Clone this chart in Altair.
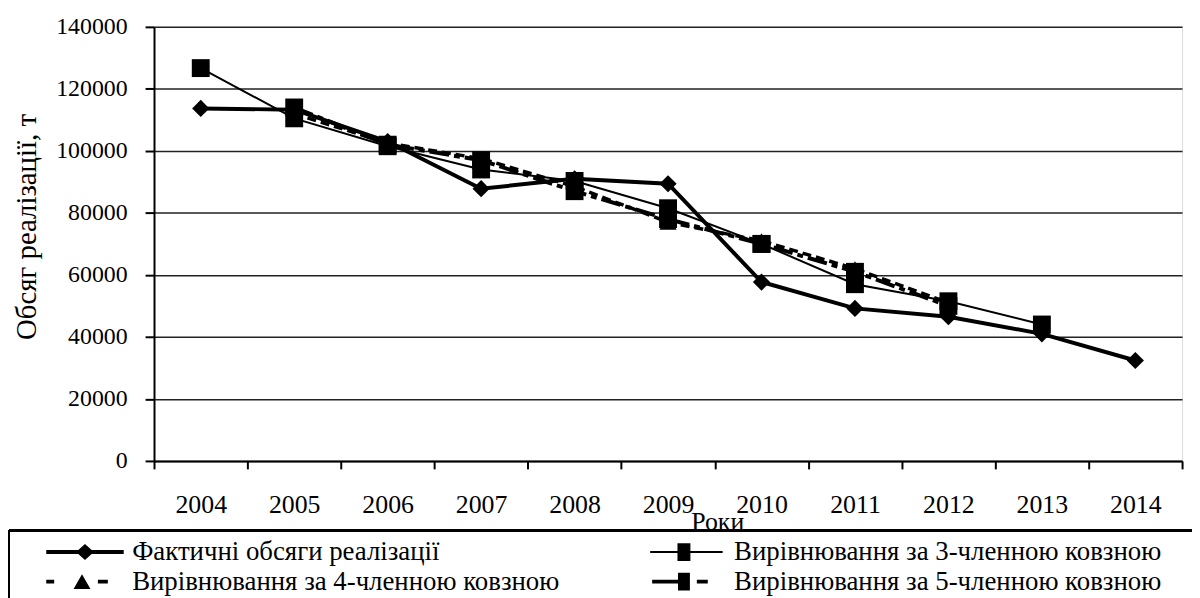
import altair as alt
import pandas as pd

# ---------------- data ----------------
years = [2004, 2005, 2006, 2007, 2008, 2009, 2010, 2011, 2012, 2013, 2014]
actual = [113700, 113300, 103000, 87800, 91000, 89400, 57700, 49200, 46500, 41000, 32400]
ma3_years = [2004, 2005, 2006, 2007, 2008, 2009, 2010, 2011, 2012, 2013]
ma3 = [126700, 110500, 101500, 94000, 90300, 81500, 70000, 57000, 51500, 44000]
ma4_years = [2005, 2006, 2007, 2008, 2009, 2010, 2011, 2012]
ma4 = [112000, 102500, 97500, 88500, 77000, 71000, 62000, 51000]
ma5_years = [2005, 2006, 2007, 2008, 2009, 2010, 2011, 2012]
ma5 = [114000, 102000, 97000, 87000, 78000, 70000, 61000, 50000]

names = [
    "Фактичні обсяги реалізації",
    "Вирівнювання за 3-членною ковзною",
    "Вирівнювання за 4-членною ковзною",
    "Вирівнювання за 5-членною ковзною",
]
y_ticks = [0, 20000, 40000, 60000, 80000, 100000, 120000, 140000]
x_title = "Роки"
y_title = "Обсяг реалізації, т"

FONT = "Liberation Serif"

rows = []
for yrs, vals, nm in [(years, actual, names[0]), (ma3_years, ma3, names[1]),
                      (ma4_years, ma4, names[2]), (ma5_years, ma5, names[3])]:
    for yr, v in zip(yrs, vals):
        rows.append({"year": str(yr), "value": v, "series": nm})
df = pd.DataFrame(rows)
year_labels = [str(y) for y in years]

# ---------------- legend symbol paths (unit = half of symbol width) ----------------
U = 12.0


def f(v):
    return f"{v / U:.4f}"


def rect(x0, x1, y0, y1):
    return f"M{f(x0)},{f(y0)}H{f(x1)}V{f(y1)}H{f(x0)}Z"


def diamond(cx, a, b):
    return f"M{f(cx - a)},0L{f(cx)},{f(-b)}L{f(cx + a)},0L{f(cx)},{f(b)}Z"


def triangle(cx, a, b):
    return f"M{f(cx - a)},{f(b)}L{f(cx)},{f(-b)}L{f(cx + a)},{f(b)}Z"


sym_actual = rect(20, 98, -2, 2) + diamond(59, 9, 8)
sym_ma3 = rect(22, 95, -1, 1) + rect(49.5, 62.5, -9, 9)
sym_ma4 = rect(20, 28, -2, 2) + triangle(56, 8.5, 7.5) + rect(72, 82, -2, 2)
sym_ma5 = rect(24, 51, -2, 2) + rect(50, 62, -9, 9) + rect(69, 80, -2, 2)

# legend fills column by column: left column = actual, 4-member; right = 3-, 5-member
legend_order = [names[0], names[2], names[1], names[3]]
legend_paths = [sym_actual, sym_ma4, sym_ma3, sym_ma5]

x_enc = alt.X(
    "year:O",
    scale=alt.Scale(type="band", domain=year_labels, paddingInner=0, paddingOuter=0),
    axis=alt.Axis(
        title=x_title, labelAngle=0, tickBand="extent", grid=False,
        domainColor="black", domainWidth=2, tickColor="black", tickWidth=2, tickSize=8,
        labelFont=FONT, labelFontSize=26, labelColor="black", labelPadding=23,
        titleFont=FONT, titleFontSize=26, titleFontWeight="normal", titleColor="black",
        titleX=567, titleY=61, titleAlign="center", titleBaseline="middle",
    ),
)
y_enc = alt.Y(
    "value:Q",
    scale=alt.Scale(domain=[0, 140000], nice=False),
    axis=alt.Axis(
        title=y_title, values=y_ticks, format="d", grid=True,
        gridColor="#222222", gridWidth=1.5,
        domainColor="black", domainWidth=2, tickColor="black", tickWidth=2, tickSize=9,
        labelFont=FONT, labelFontSize=24, labelColor="black", labelPadding=18,
        titleFont=FONT, titleFontSize=29, titleFontWeight="normal", titleColor="black",
        titleAngle=270, titleX=-128, titleY=201, titleAlign="center", titleBaseline="middle",
    ),
)

base = alt.Chart(df).encode(x=x_enc, y=y_enc)

styles = [
    (names[0], dict(strokeWidth=4), dict(shape="diamond", size=300)),
    (names[1], dict(strokeWidth=2), dict(shape="square", size=324)),
    (names[2], dict(strokeWidth=3.5, strokeDash=[9, 5]), dict(shape="triangle-up", size=300)),
    (names[3], dict(strokeWidth=4, strokeDash=[20, 5, 6, 5]), dict(shape="square", size=324)),
]

layers = []
for nm, lp, pp in styles:
    sub = base.transform_filter(alt.datum.series == nm)
    layers.append(sub.mark_line(color="black", **lp))
    layers.append(sub.mark_point(filled=True, color="black", opacity=1, **pp))

legend_layer = base.transform_filter("false").mark_point(filled=True, color="black", opacity=1).encode(
    shape=alt.Shape(
        "series:N",
        scale=alt.Scale(domain=legend_order, range=legend_paths),
        legend=alt.Legend(
            orient="none", legendX=-142, legendY=515, columns=2, title=None,
            symbolSize=576, symbolFillColor="black", symbolStrokeWidth=0,
            symbolOpacity=1, labelOffset=93, labelLimit=700,
            columnPadding=55, rowPadding=2, padding=0,
            labelFont=FONT, labelFontSize=27, labelColor="black", labelBaseline="middle",
        ),
    )
)

frame_top = alt.Chart(df).mark_rule(color="black", strokeWidth=2).encode(
    x=alt.value(-146), x2=alt.value(1060), y=alt.value(507)
)
frame_left = alt.Chart(df).mark_rule(color="black", strokeWidth=2).encode(
    x=alt.value(-146), y=alt.value(507), y2=alt.value(620)
)

chart = alt.layer(*layers, legend_layer, frame_top, frame_left).properties(
    width=1035, height=437,
    autosize=alt.AutoSizeParams(type="none"),
    padding={"left": 147, "top": 17, "right": 10, "bottom": 136},
).configure_view(stroke="#222222", strokeWidth=1.5).configure(background="white").configure_legend(
    labelFont=FONT
)

chart.save("out.html", embed_options={"renderer": "svg", "actions": False})
